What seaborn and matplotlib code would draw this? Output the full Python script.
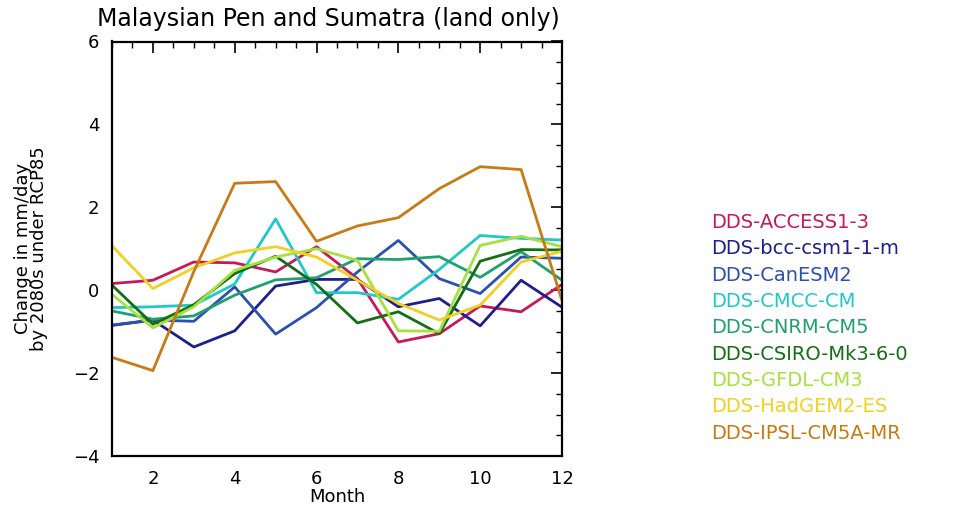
import numpy as np
import pandas as pd
import matplotlib
matplotlib.use("Agg")
import matplotlib.pyplot as plt
from matplotlib.ticker import MultipleLocator
import seaborn as sns

months = list(range(1, 13))
models = ["DDS-ACCESS1-3", "DDS-bcc-csm1-1-m", "DDS-CanESM2", "DDS-CMCC-CM",
          "DDS-CNRM-CM5", "DDS-CSIRO-Mk3-6-0", "DDS-GFDL-CM3",
          "DDS-HadGEM2-ES", "DDS-IPSL-CM5A-MR"]
colors = ["#c8185a", "#1e1e8c", "#2c50b0", "#20c8c8", "#20a070",
          "#146e14", "#a8e040", "#f0d020", "#c87a14"]

access = [0.16, 0.24, 0.68, 0.66, 0.44, 1.05, 0.28, -1.25, -1.05, -0.38, -0.52, 0.14]
bcc = [-0.85, -0.72, -1.37, -0.98, 0.1, 0.26, 0.26, -0.4, -0.2, -0.86, 0.24, -0.41]
canesm = [-0.84, -0.72, -0.75, 0.08, -1.06, -0.42, 0.44, 1.2, 0.28, -0.08, 0.8, 0.77]
cmcc = [-0.42, -0.40, -0.36, 0.15, 1.72, -0.06, -0.06, -0.22, 0.5, 1.32, 1.25, 1.21]
cnrm = [-0.5, -0.7, -0.62, -0.12, 0.25, 0.3, 0.76, 0.74, 0.81, 0.31, 0.93, 0.24]
csiro = [0.12, -0.82, -0.35, 0.4, 0.82, 0.14, -0.79, -0.52, -1.05, 0.7, 0.98, 0.97]
gfdl = [-0.1, -0.91, -0.4, 0.48, 0.8, 1.0, 0.72, -0.98, -0.99, 1.08, 1.3, 1.05]
hadgem = [1.07, 0.04, 0.54, 0.9, 1.05, 0.8, 0.24, -0.32, -0.72, -0.36, 0.68, 0.94]
ipsl = [-1.62, -1.94, 0.45, 2.58, 2.62, 1.18, 1.55, 1.75, 2.45, 2.98, 2.91, -0.25]
series = [access, bcc, canesm, cmcc, cnrm, csiro, gfdl, hadgem, ipsl]

yticks = [-4, -2, 0, 2, 4, 6]
xticks = [2, 4, 6, 8, 10, 12]

rows = []
for name, vals in zip(models, series):
    for m, v in zip(months, vals):
        rows.append({"Month": m, "value": v, "model": name})
df = pd.DataFrame(rows)

sns.set_style("white")
plt.rcParams["font.family"] = ["DejaVu Sans"]
plt.rcParams["text.color"] = "black"
plt.rcParams["axes.labelcolor"] = "black"
plt.rcParams["xtick.color"] = "black"
plt.rcParams["ytick.color"] = "black"

fig = plt.figure(figsize=(9.77, 5.08), dpi=100)
ax = fig.add_axes([112 / 977, 1 - 456 / 508, 450 / 977, 414.5 / 508])

sns.lineplot(data=df, x="Month", y="value", hue="model", hue_order=models,
             palette=colors, linewidth=2.0, ax=ax, legend=True)

ax.set_xlim(1, 12)
ax.set_ylim(-4, 6)
ax.set_xticks(xticks)
ax.set_yticks(yticks)
ax.xaxis.set_minor_locator(MultipleLocator(0.5))
ax.yaxis.set_minor_locator(MultipleLocator(0.5))
ax.tick_params(which="both", direction="in", top=True, right=True, color="black",
               labelsize=13)
ax.tick_params(axis="x", which="major", pad=10)
ax.tick_params(axis="y", which="major", pad=9)
ax.tick_params(which="major", length=8, width=1.2)
ax.tick_params(which="minor", length=4, width=1.0)
for sp in ax.spines.values():
    sp.set_color("black")
    sp.set_linewidth(1.6)

ax.set_xlabel("Month", fontsize=13, labelpad=0)
ax.set_ylabel("Change in mm/day\nby 2080s under RCP85", fontsize=13, labelpad=18,
              linespacing=0.85)
ax.set_title("Malaysian Pen and Sumatra (land only)", fontsize=17, pad=11, x=0.48)

leg = ax.legend(loc="upper left", bbox_to_anchor=(703 / 977, 1 - 205 / 508),
                bbox_transform=fig.transFigure, frameon=False,
                handlelength=0, handletextpad=0, labelcolor="linecolor",
                fontsize=14, labelspacing=0.38, borderaxespad=0)
for h in leg.legend_handles:
    h.set_visible(False)

fig.savefig("out.png", dpi=100)
